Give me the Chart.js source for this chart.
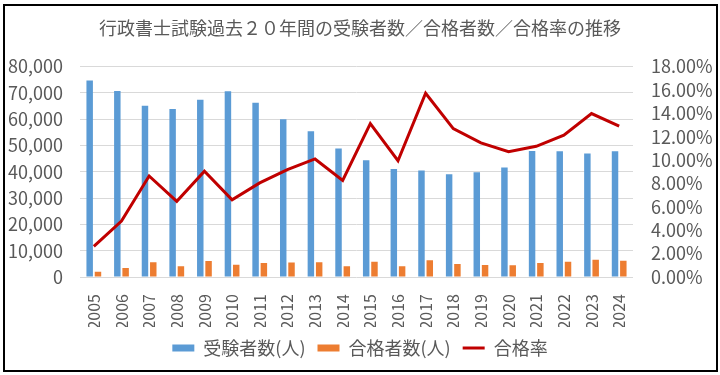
<!DOCTYPE html>
<html lang="ja">
<head>
<meta charset="utf-8">
<title>行政書士試験過去２０年間の受験者数／合格者数／合格率の推移</title>
<script src="https://cdn.jsdelivr.net/npm/chart.js"></script>
<style>
  html, body { margin: 0; padding: 0; background: #fff; }
  .wrap { position: relative; width: 720px; height: 375px; }
  .frame {
    position: absolute; left: 3px; top: 4px; width: 715px; height: 368px;
    box-sizing: border-box; border: 2px solid #000; pointer-events: none;
  }
</style>
</head>
<body>
<div class="wrap">
  <canvas id="passChart" width="720" height="375"></canvas>
  <div class="frame"></div>
</div>

<script>
  // data
  const years = ['2005', '2006', '2007', '2008', '2009', '2010', '2011', '2012', '2013', '2014',
                 '2015', '2016', '2017', '2018', '2019', '2020', '2021', '2022', '2023', '2024'];

  const examinees = [74762, 70713, 65157, 63907, 67348, 70586, 66297, 59948, 55436, 48869,
                     44366, 41053, 40449, 39105, 39821, 41681, 47870, 47850, 46991, 47785];

  const passers = [1961, 3385, 5631, 4133, 6095, 4662, 5337, 5508, 5597, 4043,
                   5820, 4084, 6360, 4968, 4571, 4470, 5353, 5802, 6571, 6165];

  // 合格率 in percent
  const passRate = [2.62, 4.79, 8.64, 6.47, 9.05, 6.60, 8.05, 9.19, 10.10, 8.27,
                    13.12, 9.95, 15.72, 12.70, 11.48, 10.72, 11.18, 12.13, 13.98, 12.90];

  const seriesNames = ['受験者数(人)', '合格者数(人)', '合格率'];

  const FONT = '"Noto Sans CJK JP", "Noto Sans", sans-serif';
  const TEXT = '#595959';

  new Chart(document.getElementById('passChart'), {
    type: 'bar',
    data: {
      labels: years,
      datasets: [
        {
          type: 'bar',
          label: seriesNames[0],
          data: examinees,
          yAxisID: 'y',
          backgroundColor: '#5B9BD5',
          borderWidth: 0,
          pointStyle: 'rect',
          order: 1
        },
        {
          type: 'bar',
          label: seriesNames[1],
          data: passers,
          yAxisID: 'y',
          backgroundColor: '#ED7D31',
          borderWidth: 0,
          pointStyle: 'rect',
          order: 2
        },
        {
          type: 'line',
          label: seriesNames[2],
          data: passRate,
          yAxisID: 'y1',
          borderColor: '#C00000',
          backgroundColor: '#C00000',
          borderWidth: 3,
          pointRadius: 0,
          pointStyle: 'line',
          tension: 0,
          order: 0 // drawn on top of the bars
        }
      ]
    },
    options: {
      responsive: false,
      animation: false,
      categoryPercentage: 0.6,
      barPercentage: 0.78,
      layout: { padding: { left: 0, right: 0, top: 0, bottom: 8 } },
      plugins: {
        title: {
          display: true,
          text: '行政書士試験過去２０年間の受験者数／合格者数／合格率の推移',
          color: TEXT,
          font: { family: FONT, size: 18, weight: 'normal' },
          padding: { top: 17, bottom: 28 }
        },
        legend: {
          position: 'bottom',
          labels: {
            color: TEXT,
            font: { family: FONT, size: 18 },
            usePointStyle: true,
            pointStyleWidth: 22,
            boxHeight: 7,
            padding: 12,
            sort: (a, b) => a.datasetIndex - b.datasetIndex
          }
        },
        tooltip: { enabled: false }
      },
      scales: {
        x: {
          grid: { display: false },
          border: { display: false },
          ticks: {
            color: TEXT,
            font: { family: FONT, size: 16 },
            minRotation: 90,
            maxRotation: 90,
            padding: 9,
            autoSkip: false
          },
          afterFit: (scale) => { scale.height = 50; }
        },
        y: {
          position: 'left',
          min: 0,
          max: 80000,
          border: { display: false },
          grid: { color: '#D9D9D9', lineWidth: 1, drawTicks: false },
          ticks: {
            stepSize: 10000,
            autoSkip: false,
            color: TEXT,
            font: { family: FONT, size: 18 },
            padding: 17,
            callback: (v) => v.toLocaleString('en-US')
          },
          afterFit: (scale) => { scale.width = 80; }
        },
        y1: {
          position: 'right',
          min: 0,
          max: 18,
          border: { display: false },
          grid: { display: false, drawTicks: false },
          ticks: {
            stepSize: 2,
            autoSkip: false,
            color: TEXT,
            font: { family: FONT, size: 18 },
            padding: 18,
            callback: (v) => v.toFixed(2) + '%'
          },
          afterFit: (scale) => { scale.width = 87; }
        }
      }
    }
  });
</script>
</body>
</html>
